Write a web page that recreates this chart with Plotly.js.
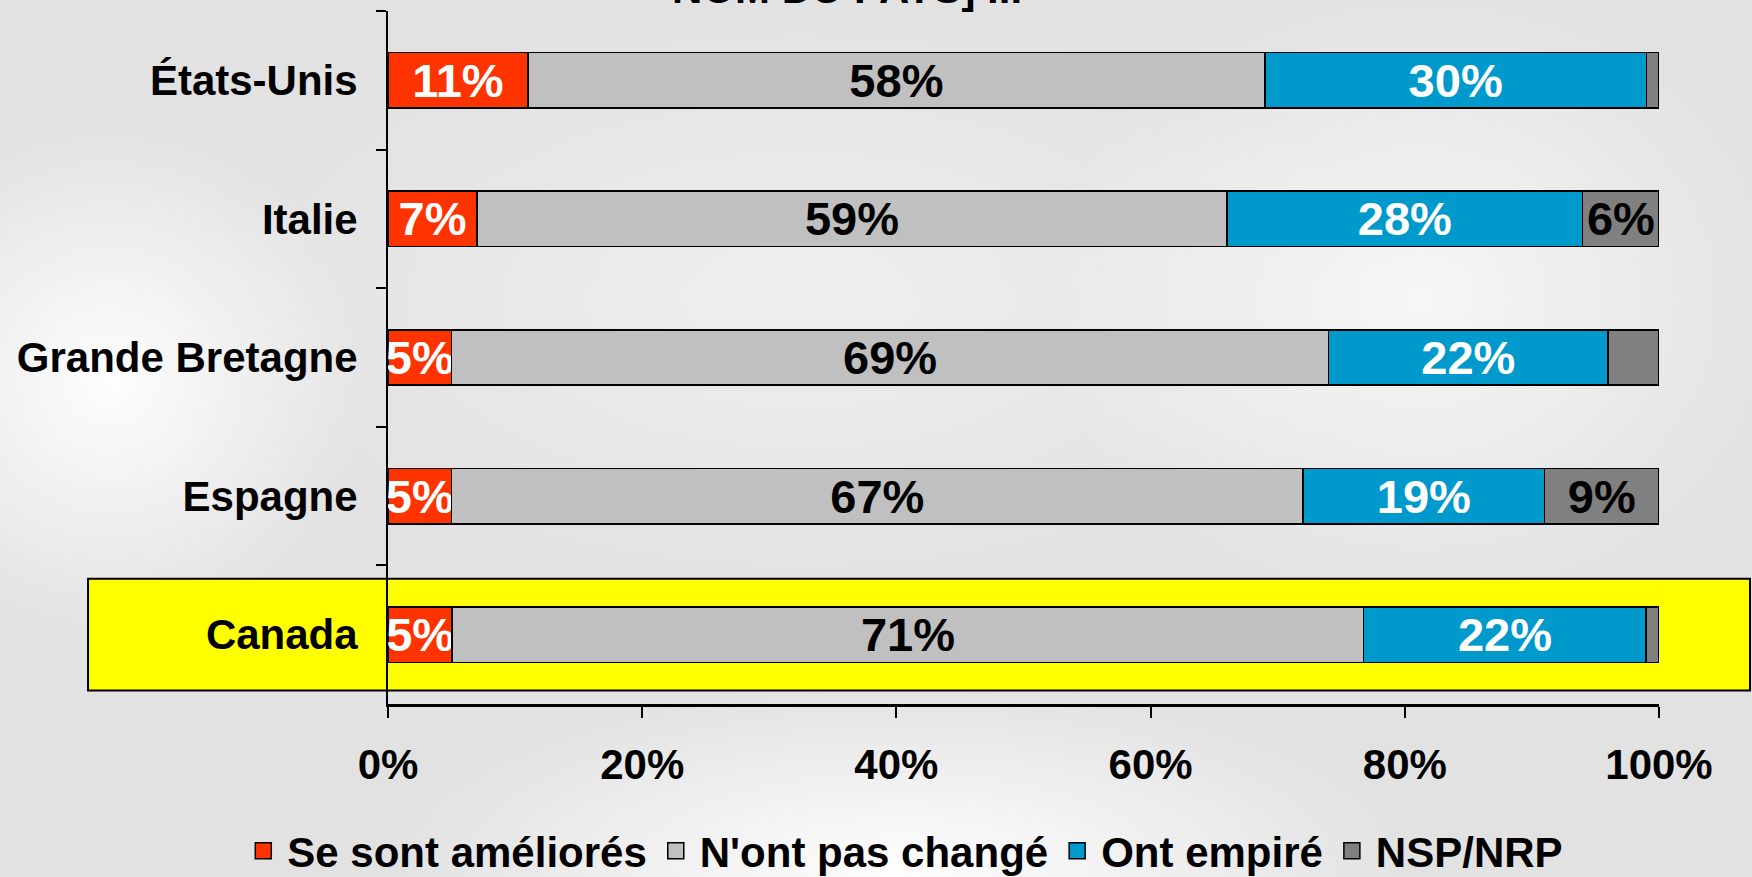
<!DOCTYPE html>
<html>
<head>
<meta charset="utf-8">
<script src="https://cdn.plot.ly/plotly-3.0.1.min.js"></script>
<style>
  html, body { margin: 0; padding: 0; }
  body {
    width: 1752px; height: 877px; overflow: hidden;
    background-color: #e2e2e2;
    background-image:
      radial-gradient(ellipse 260px 260px at 110px 380px, rgba(255,255,255,0.95), rgba(255,255,255,0)),
      radial-gradient(ellipse 520px 190px at 900px 870px, rgba(255,255,255,0.95), rgba(255,255,255,0)),
      radial-gradient(ellipse 380px 320px at 1420px 300px, rgba(255,255,255,0.7), rgba(255,255,255,0)),
      radial-gradient(ellipse 600px 300px at 800px 300px, rgba(255,255,255,0.45), rgba(255,255,255,0));
  }
  #chart { width: 1752px; height: 877px; }
</style>
</head>
<body>
<div id="chart"></div>
<script>
// ---- data ----
const countries = ['États-Unis', 'Italie', 'Grande Bretagne', 'Espagne', 'Canada'];
const improved  = [11, 7, 5, 5, 5];
const unchanged = [58, 59, 69, 67, 71];
const worse     = [30, 28, 22, 19, 22];
const dontKnow  = [1, 6, 4, 9, 1];
const seriesNames = ['Se sont améliorés', "N'ont pas changé", 'Ont empiré', 'NSP/NRP'];
const xTickValues = [0, 20, 40, 60, 80, 100];
const xTickLabels = ['0%', '20%', '40%', '60%', '80%', '100%'];
const highlightedCountry = 'Canada';
const titleText = 'NOM DU PAYS] ...';

// ---- styling ----
const FONT = 'Liberation Sans, Arial, sans-serif';
const colors = ['#FF3300', '#C0C0C0', '#0099CC', '#808080'];
const textColors = ['#FFFFFF', '#000000', '#FFFFFF', '#000000'];
const seriesValues = [improved, unchanged, worse, dontKnow];

const label = v => (v >= 5 ? v + '%' : '');

const barTraces = seriesValues.map((vals, i) => ({
  type: 'bar',
  orientation: 'h',
  name: seriesNames[i],
  legendgroup: 'g' + i,
  showlegend: false,
  y: countries,
  x: vals,
  text: vals.map(label),
  textposition: 'inside',
  insidetextanchor: 'middle',
  textangle: 0,
  constraintext: 'none',
  texttemplate: '%{text}',
  textfont: { family: FONT, size: 47, weight: 'bold', color: textColors[i] },
  marker: { color: colors[i], line: { color: '#000000', width: 1.5 } },
  hoverinfo: 'skip'
}));

// legend-only entries (larger square swatches like the original)
const legendTraces = seriesNames.map((name, i) => ({
  type: 'scatter', mode: 'markers',
  name: name, legendgroup: 'g' + i, showlegend: true,
  x: [null], y: [countries[0]],
  marker: { symbol: 'square', size: 16, color: colors[i], line: { color: '#000000', width: 1.5 } },
  hoverinfo: 'skip'
}));

const hi = countries.indexOf(highlightedCountry);

const layout = {
  width: 1752, height: 877, autosize: false,
  paper_bgcolor: 'rgba(0,0,0,0)', plot_bgcolor: 'rgba(0,0,0,0)',
  margin: { l: 388, r: 93, t: 11, b: 173, pad: 0, autoexpand: false },
  barmode: 'stack', barnorm: 'percent', bargap: 0.6,
  showlegend: true,
  uniformtext: { mode: 'show', minsize: 47 },
  font: { family: FONT, color: '#000000' },
  xaxis: {
    range: [0, 100], fixedrange: true,
    tickvals: xTickValues, ticktext: xTickLabels,
    ticks: 'outside', ticklen: 11, tickwidth: 2, tickcolor: '#000000',
    showline: true, linewidth: 3, linecolor: '#000000',
    showgrid: false, zeroline: false,
    ticklabelstandoff: 11,
    tickfont: { family: FONT, size: 42, weight: 'bold', color: '#000000' }
  },
  yaxis: {
    type: 'category', autorange: 'reversed', fixedrange: true,
    tickson: 'boundaries', ticks: 'outside', ticklen: 10, tickwidth: 2, tickcolor: '#000000',
    showline: true, linewidth: 2, linecolor: '#000000',
    showgrid: false, zeroline: false,
    ticklabelstandoff: 20,
    tickfont: { family: FONT, size: 42, weight: 'bold', color: '#000000' }
  },
  legend: {
    orientation: 'h',
    xref: 'paper', yref: 'paper',
    x: -0.117, xanchor: 'left',
    y: -0.212, yanchor: 'middle',
    itemwidth: 38,
    bgcolor: 'rgba(0,0,0,0)',
    font: { family: FONT, size: 42, weight: 'bold', color: '#000000' },
    traceorder: 'normal'
  },
  shapes: [{
    type: 'rect', layer: 'below',
    xref: 'paper', x0: -0.236, x1: 1.0716,
    yref: 'y', y0: hi - 0.403, y1: hi + 0.403,
    fillcolor: '#FFFF00',
    line: { color: '#000000', width: 2 }
  }],
  annotations: [{
    text: titleText, showarrow: false,
    xref: 'paper', x: 0.222, xanchor: 'left',
    yref: 'paper', y: 0.995, yanchor: 'bottom',
    font: { family: FONT, size: 42, weight: 'bold', color: '#000000' }
  }]
};

Plotly.newPlot('chart', barTraces.concat(legendTraces), layout, { displayModeBar: false, staticPlot: true });
</script>
</body>
</html>
